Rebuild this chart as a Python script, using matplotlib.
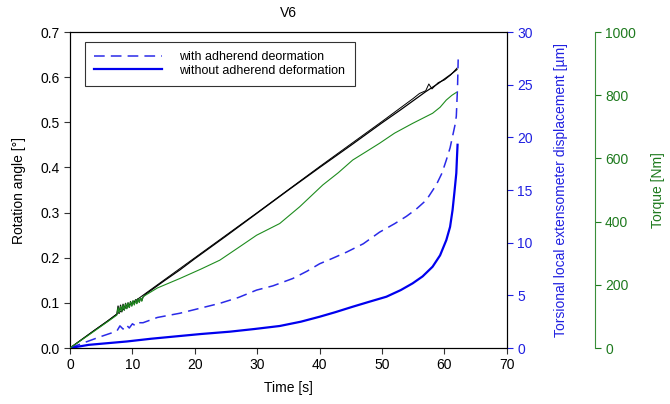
import numpy as np
import matplotlib.pyplot as plt

plt.rcParams['font.family'] = ['Liberation Sans', 'DejaVu Sans']

# rotation angle [deg] vs time [s]
t_rot = [0, 2, 4, 6, 7.5, 7.7, 7.9, 8.1, 8.3, 8.5, 8.7, 8.9, 9.1, 9.3, 9.5, 9.7, 9.9, 10.1, 10.3, 10.5,
         10.7, 10.9, 11.1, 11.3, 11.5, 11.7, 12,
         15, 17.6, 20, 25, 30, 35, 40, 45, 50, 53, 55, 57, 58, 59, 60, 61, 62]
rot = [0, 0.02, 0.04, 0.059, 0.075, 0.093, 0.077, 0.095, 0.08, 0.097, 0.084, 0.099, 0.088, 0.1, 0.09, 0.103, 0.094, 0.104, 0.097, 0.107,
       0.099, 0.109, 0.102, 0.111, 0.105, 0.113, 0.118,
       0.148, 0.173, 0.198, 0.248, 0.299, 0.35, 0.4, 0.449, 0.499, 0.528, 0.548, 0.568, 0.577, 0.586, 0.596, 0.606, 0.617]
t_rot2 = [0, 10, 20, 30, 40, 50, 55, 56, 57, 57.5, 58, 59, 60, 61, 62]
rot2 = [0, 0.1, 0.2, 0.3, 0.402, 0.502, 0.553, 0.564, 0.57, 0.585, 0.574, 0.588, 0.594, 0.605, 0.62]

# torque [Nm]
t_tq = [0, 3, 6, 7.5, 7.7, 7.9, 8.1, 8.3, 8.5, 8.7, 8.9, 9.1, 9.3, 9.5, 9.7, 9.9, 10.1, 10.3, 10.5,
        10.7, 10.9, 11.1, 11.3, 11.5, 11.7, 12,
        14, 17.6, 21, 24, 27, 29.9, 33.6, 36.8, 40.5, 43, 45.3, 47.5, 49.6, 52, 54.9, 56.5, 58.1, 59.3,
        60.3, 61.2, 61.9]
torque = [0, 41, 83, 104, 128, 112, 132, 116, 136, 120, 140, 124, 143, 128, 146, 132, 150, 136, 152,
          140, 156, 144, 159, 148, 162, 166,
          190, 220, 250, 278, 318, 357, 394, 447, 516, 555, 595, 622, 648, 680, 711, 727, 743, 762,
          785, 800, 809]

# displacement [um]
t_with = [0, 2, 5, 7.5, 8, 8.5, 9, 9.5, 10, 10.5, 11, 11.7, 14, 17.6, 21, 24, 27, 29.9, 32.5, 35.7,
          38, 40, 42, 44.3, 47, 49.6, 52, 53.9, 55.5, 57.1, 58.7, 59.6, 60.3, 60.9, 61.3, 61.7, 61.9, 62.1, 62.2]
disp_with = [0, 0.45, 1.1, 1.6, 2.1, 1.8, 2.2, 1.9, 2.3, 2.1, 2.4, 2.4, 2.9, 3.3, 3.8, 4.24, 4.8, 5.5, 5.9, 6.6,
             7.3, 8.0, 8.5, 9.1, 9.9, 11.0, 11.8, 12.5, 13.2, 14.05, 15.5, 16.6, 17.85, 19.0, 20.1, 21.2, 22.0, 24.8, 27.4]
t_without = [0, 3, 9.1, 13, 17.6, 21, 25.6, 29.5, 33.6, 37, 40, 42.5, 45.3, 48, 50.7, 53, 54.9, 56.5, 58.1,
             59.3, 60.3, 60.9, 61.3, 61.6, 61.9, 62, 62.1]
disp_without = [0, 0.3, 0.62, 0.88, 1.14, 1.33, 1.55, 1.8, 2.09, 2.5, 2.97, 3.4, 3.92, 4.4, 4.87, 5.5, 6.14, 6.8, 7.72,
                8.8, 10.25, 11.5, 13.1, 14.8, 16.6, 18.0, 19.3]

fig = plt.figure(figsize=(6.7, 4.04), dpi=100)
ax = fig.add_axes([0.1045, 0.1386, 0.652, 0.782])
fs = 10

ax.plot(t_rot, rot, color='black', lw=0.9)
ax.plot(t_rot2, rot2, color='black', lw=0.7)
ax.set_xlim(0, 70)
ax.set_ylim(0, 0.7)
ax.set_xticks(range(0, 71, 10))
ax.set_yticks(np.arange(0, 0.71, 0.1))
ax.set_yticklabels([f'{v:.1f}' for v in np.arange(0, 0.71, 0.1)])
ax.tick_params(direction='out', labelsize=fs, length=4, color='#333333')
ax.set_xlabel('Time [s]', fontsize=fs, labelpad=6)
ax.set_ylabel('Rotation angle [°]', fontsize=fs, labelpad=10)
ax.set_title('V6', fontsize=fs, pad=11)

ax2 = ax.twinx()
ax2.plot(t_with, disp_with, color='#2a2ae8', lw=1.1, dashes=(7, 4), label='with adherend deormation')
ax2.plot(t_without, disp_without, color='#0000ee', lw=1.6, label='without adherend deformation')
ax2.set_ylim(0, 30)
ax2.set_yticks(range(0, 31, 5))
ax2.tick_params(direction='out', labelsize=fs, length=4, colors='#2020e0')
ax2.set_ylabel('Torsional local extensometer displacement [µm]', fontsize=fs, color='#2020e0', labelpad=15)

ax3 = ax.twinx()
ax3.plot(t_tq, torque, color='#1e8c1e', lw=0.8)
ax3.set_ylim(0, 1000)
ax3.set_yticks(range(0, 1001, 200))
ax3.spines['right'].set_position(('axes', 1.201))
ax3.spines['right'].set_color('#3a8f3a')
for s in ['top', 'bottom', 'left']:
    ax3.spines[s].set_visible(False)
ax3.tick_params(direction='out', labelsize=fs, length=4, colors='#1e7a1e')
ax3.set_ylabel('Torque [Nm]', fontsize=fs, color='#1e7a1e', labelpad=11)

leg = ax2.legend(loc='upper left', bbox_to_anchor=(0.034, 0.97), fontsize=9, frameon=True,
                 fancybox=False, handlelength=5.4, handletextpad=1.4, borderpad=0.75,
                 labelspacing=0.15, borderaxespad=0)
leg.get_frame().set_edgecolor('black')
leg.get_frame().set_linewidth(0.8)

fig.savefig('out.png', dpi=100)
